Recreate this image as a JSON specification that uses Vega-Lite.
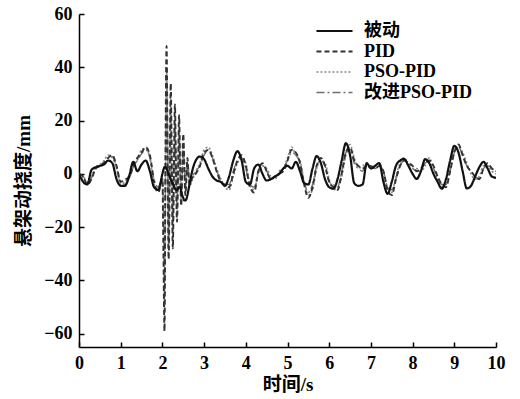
{
  "$schema": "https://vega.github.io/schema/vega-lite/v6.json",
  "width": 417,
  "height": 333,
  "autosize": "none",
  "padding": {"left": 79, "top": 14, "right": 24, "bottom": 52},
  "background": "white",
  "config": {
    "view": {"stroke": null},
    "font": "Liberation Serif, Noto Sans CJK SC",
    "axis": {
      "grid": false,
      "domainColor": "#000",
      "domainWidth": 1.5,
      "tickColor": "#000",
      "tickWidth": 1.5,
      "tickSize": -5,
      "labelColor": "#000",
      "labelFontSize": 18,
      "labelFontWeight": "bold",
      "labelFont": "Liberation Serif",
      "titleColor": "#000",
      "titleFontWeight": "bold",
      "titleFont": "Liberation Serif, Noto Sans CJK SC"
    }
  },
  "data": {
    "values": [
      {"t": 0.0, "被动": 0, "PID": 0, "PSO-PID": 0, "改进PSO-PID": 0},
      {"t": 0.1, "被动": -3, "PID": -1, "PSO-PID": -1.5, "改进PSO-PID": -1},
      {"t": 0.2, "被动": -4, "PID": -4, "PSO-PID": -3.5, "改进PSO-PID": -3},
      {"t": 0.3, "被动": 1.5, "PID": -2, "PSO-PID": -1, "改进PSO-PID": -1.5},
      {"t": 0.4, "被动": 2.5, "PID": 2, "PSO-PID": 2.5, "改进PSO-PID": 2},
      {"t": 0.5, "被动": 3, "PID": 3, "PSO-PID": 3.5, "改进PSO-PID": 3},
      {"t": 0.6, "被动": 3.5, "PID": 4, "PSO-PID": 5, "改进PSO-PID": 4.5},
      {"t": 0.7, "被动": 5, "PID": 6, "PSO-PID": 7, "改进PSO-PID": 6},
      {"t": 0.8, "被动": 4, "PID": 7, "PSO-PID": 6, "改进PSO-PID": 6.5},
      {"t": 0.9, "被动": -2, "PID": 3, "PSO-PID": 2, "改进PSO-PID": 2.5},
      {"t": 1.0, "被动": -4.5, "PID": -3, "PSO-PID": -4, "改进PSO-PID": -3.5},
      {"t": 1.1, "被动": -4.5, "PID": -2, "PSO-PID": -3, "改进PSO-PID": -4},
      {"t": 1.2, "被动": -1, "PID": -1.5, "PSO-PID": -0.5, "改进PSO-PID": -2},
      {"t": 1.3, "被动": 4.5, "PID": 3, "PSO-PID": 3, "改进PSO-PID": 2.5},
      {"t": 1.4, "被动": 1, "PID": 6, "PSO-PID": 5, "改进PSO-PID": 5},
      {"t": 1.5, "被动": 3.5, "PID": 8, "PSO-PID": 9, "改进PSO-PID": 7.5},
      {"t": 1.6, "被动": 5, "PID": 10, "PSO-PID": 9.5, "改进PSO-PID": 9},
      {"t": 1.7, "被动": 1, "PID": 7, "PSO-PID": 6, "改进PSO-PID": 6},
      {"t": 1.8, "被动": -5, "PID": -3, "PSO-PID": -4, "改进PSO-PID": -2},
      {"t": 1.9, "被动": -6, "PID": -7, "PSO-PID": -6, "改进PSO-PID": -5},
      {"t": 2.0, "被动": 0, "PID": -2, "PSO-PID": -3, "改进PSO-PID": -1},
      {"t": 2.025, "被动": 1.5, "PID": -30, "PSO-PID": -20, "改进PSO-PID": -15},
      {"t": 2.05, "被动": 2.5, "PID": -59, "PSO-PID": -50, "改进PSO-PID": -45},
      {"t": 2.075, "被动": 2.5, "PID": 10, "PSO-PID": 5, "改进PSO-PID": 0},
      {"t": 2.1, "被动": 2, "PID": 48, "PSO-PID": 40, "改进PSO-PID": 35},
      {"t": 2.125, "被动": 1, "PID": 5, "PSO-PID": 8, "改进PSO-PID": 10},
      {"t": 2.15, "被动": 0, "PID": -32, "PSO-PID": -28, "改进PSO-PID": -24},
      {"t": 2.175, "被动": -1, "PID": 0, "PSO-PID": -5, "改进PSO-PID": -3},
      {"t": 2.2, "被动": -2, "PID": 34, "PSO-PID": 28, "改进PSO-PID": 25},
      {"t": 2.225, "被动": -3, "PID": 3, "PSO-PID": 4, "改进PSO-PID": 2},
      {"t": 2.25, "被动": -3.5, "PID": -28, "PSO-PID": -22, "改进PSO-PID": -18},
      {"t": 2.275, "被动": -4.5, "PID": 0, "PSO-PID": -2, "改进PSO-PID": 0},
      {"t": 2.3, "被动": -5.5, "PID": 26, "PSO-PID": 20, "改进PSO-PID": 18},
      {"t": 2.325, "被动": -6, "PID": 2, "PSO-PID": 3, "改进PSO-PID": 1},
      {"t": 2.35, "被动": -6, "PID": -18, "PSO-PID": -15, "改进PSO-PID": -12},
      {"t": 2.375, "被动": -5.5, "PID": 0, "PSO-PID": 0, "改进PSO-PID": -1},
      {"t": 2.4, "被动": -5, "PID": 22, "PSO-PID": 17, "改进PSO-PID": 14},
      {"t": 2.425, "被动": -5, "PID": 3, "PSO-PID": 4, "改进PSO-PID": 2},
      {"t": 2.45, "被动": -6.5, "PID": -12, "PSO-PID": -10, "改进PSO-PID": -8},
      {"t": 2.475, "被动": -8, "PID": 0, "PSO-PID": 1, "改进PSO-PID": -1},
      {"t": 2.5, "被动": -9, "PID": 15, "PSO-PID": 12, "改进PSO-PID": 10},
      {"t": 2.525, "被动": -10, "PID": 4, "PSO-PID": 3, "改进PSO-PID": 3},
      {"t": 2.55, "被动": -10, "PID": -8, "PSO-PID": -6, "改进PSO-PID": -5},
      {"t": 2.575, "被动": -9.5, "PID": -2, "PSO-PID": -1, "改进PSO-PID": -1},
      {"t": 2.6, "被动": -8, "PID": 6, "PSO-PID": 5, "改进PSO-PID": 4},
      {"t": 2.625, "被动": -6, "PID": 0, "PSO-PID": 2, "改进PSO-PID": 1},
      {"t": 2.65, "被动": -4, "PID": -4, "PSO-PID": -3, "改进PSO-PID": -3},
      {"t": 2.675, "被动": -2, "PID": -3, "PSO-PID": -4, "改进PSO-PID": -4},
      {"t": 2.7, "被动": 0, "PID": -2, "PSO-PID": -3, "改进PSO-PID": -2},
      {"t": 2.8, "被动": 5, "PID": 0, "PSO-PID": 1, "改进PSO-PID": 1},
      {"t": 2.9, "被动": 6.5, "PID": 3, "PSO-PID": 4, "改进PSO-PID": 3},
      {"t": 3.0, "被动": 5.5, "PID": 8, "PSO-PID": 9, "改进PSO-PID": 7},
      {"t": 3.1, "被动": 2, "PID": 9, "PSO-PID": 10, "改进PSO-PID": 9},
      {"t": 3.2, "被动": -1, "PID": 6, "PSO-PID": 7, "改进PSO-PID": 6},
      {"t": 3.3, "被动": -2.5, "PID": 1, "PSO-PID": 2, "改进PSO-PID": 1},
      {"t": 3.4, "被动": -3, "PID": -3, "PSO-PID": -2, "改进PSO-PID": -2},
      {"t": 3.5, "被动": -4.5, "PID": -4, "PSO-PID": -5, "改进PSO-PID": -4},
      {"t": 3.6, "被动": -1, "PID": -5, "PSO-PID": -6, "改进PSO-PID": -4},
      {"t": 3.7, "被动": 5, "PID": 0, "PSO-PID": -1, "改进PSO-PID": 1},
      {"t": 3.8, "被动": 8.5, "PID": 5, "PSO-PID": 4, "改进PSO-PID": 5},
      {"t": 3.9, "被动": 5, "PID": 7, "PSO-PID": 6, "改进PSO-PID": 6},
      {"t": 4.0, "被动": -3, "PID": 3, "PSO-PID": 4, "改进PSO-PID": 2},
      {"t": 4.1, "被动": -4, "PID": -5, "PSO-PID": -4, "改进PSO-PID": -4},
      {"t": 4.2, "被动": 2, "PID": -7, "PSO-PID": -6, "改进PSO-PID": -5},
      {"t": 4.3, "被动": 3.5, "PID": 1, "PSO-PID": 0, "改进PSO-PID": 1},
      {"t": 4.4, "被动": 0, "PID": 4, "PSO-PID": 3, "改进PSO-PID": 3},
      {"t": 4.5, "被动": -2.5, "PID": 1, "PSO-PID": 2, "改进PSO-PID": 1},
      {"t": 4.6, "被动": -2, "PID": -2, "PSO-PID": -1, "改进PSO-PID": -2},
      {"t": 4.7, "被动": -1, "PID": -1, "PSO-PID": -2, "改进PSO-PID": -1},
      {"t": 4.8, "被动": 0, "PID": 0, "PSO-PID": 1, "改进PSO-PID": 0},
      {"t": 4.9, "被动": 2, "PID": 1, "PSO-PID": 2, "改进PSO-PID": 2},
      {"t": 5.0, "被动": 3, "PID": 5, "PSO-PID": 6, "改进PSO-PID": 5},
      {"t": 5.1, "被动": 2, "PID": 9, "PSO-PID": 10, "改进PSO-PID": 8},
      {"t": 5.2, "被动": 4.5, "PID": 8, "PSO-PID": 7, "改进PSO-PID": 7},
      {"t": 5.3, "被动": 1, "PID": 4, "PSO-PID": 5, "改进PSO-PID": 4},
      {"t": 5.4, "被动": -3.5, "PID": -4, "PSO-PID": -3, "改进PSO-PID": -3},
      {"t": 5.5, "被动": -4, "PID": -9, "PSO-PID": -8, "改进PSO-PID": -7},
      {"t": 5.6, "被动": 2, "PID": -5, "PSO-PID": -6, "改进PSO-PID": -4},
      {"t": 5.7, "被动": 6.7, "PID": 3, "PSO-PID": 2, "改进PSO-PID": 3},
      {"t": 5.8, "被动": 4, "PID": 6, "PSO-PID": 5, "改进PSO-PID": 5},
      {"t": 5.9, "被动": -2, "PID": 3, "PSO-PID": 4, "改进PSO-PID": 3},
      {"t": 6.0, "被动": -5, "PID": -3, "PSO-PID": -2, "改进PSO-PID": -3},
      {"t": 6.1, "被动": -5.6, "PID": -5, "PSO-PID": -6, "改进PSO-PID": -4},
      {"t": 6.2, "被动": -2, "PID": -6, "PSO-PID": -5, "改进PSO-PID": -5},
      {"t": 6.3, "被动": 5, "PID": 0, "PSO-PID": -1, "改进PSO-PID": 1},
      {"t": 6.4, "被动": 11.5, "PID": 8, "PSO-PID": 7, "改进PSO-PID": 8},
      {"t": 6.5, "被动": 7, "PID": 10, "PSO-PID": 11, "改进PSO-PID": 9},
      {"t": 6.6, "被动": -3.5, "PID": 5, "PSO-PID": 6, "改进PSO-PID": 4},
      {"t": 6.7, "被动": -4.5, "PID": 3, "PSO-PID": 2, "改进PSO-PID": 2},
      {"t": 6.8, "被动": -4, "PID": 2, "PSO-PID": 3, "改进PSO-PID": 1},
      {"t": 6.9, "被动": 4, "PID": 3, "PSO-PID": 4, "改进PSO-PID": 3},
      {"t": 7.0, "被动": 2, "PID": 3, "PSO-PID": 2, "改进PSO-PID": 3},
      {"t": 7.1, "被动": 3, "PID": 2, "PSO-PID": 3, "改进PSO-PID": 2},
      {"t": 7.2, "被动": 4, "PID": 3, "PSO-PID": 4, "改进PSO-PID": 3},
      {"t": 7.3, "被动": -3, "PID": 1, "PSO-PID": 0, "改进PSO-PID": 1},
      {"t": 7.4, "被动": -7.5, "PID": -6, "PSO-PID": -7, "改进PSO-PID": -5},
      {"t": 7.5, "被动": -3, "PID": -8, "PSO-PID": -7, "改进PSO-PID": -6},
      {"t": 7.6, "被动": 3, "PID": -2, "PSO-PID": -1, "改进PSO-PID": -2},
      {"t": 7.7, "被动": 5, "PID": 3, "PSO-PID": 4, "改进PSO-PID": 3},
      {"t": 7.8, "被动": 5.6, "PID": 5, "PSO-PID": 6, "改进PSO-PID": 5},
      {"t": 7.9, "被动": 3, "PID": 4, "PSO-PID": 3, "改进PSO-PID": 4},
      {"t": 8.0, "被动": 0, "PID": 3, "PSO-PID": 2, "改进PSO-PID": 2},
      {"t": 8.1, "被动": -1.9, "PID": 1, "PSO-PID": 2, "改进PSO-PID": 1},
      {"t": 8.2, "被动": 1, "PID": 2, "PSO-PID": 1, "改进PSO-PID": 2},
      {"t": 8.3, "被动": 5.5, "PID": 4, "PSO-PID": 3, "改进PSO-PID": 4},
      {"t": 8.4, "被动": 4, "PID": 5, "PSO-PID": 6, "改进PSO-PID": 5},
      {"t": 8.5, "被动": 0, "PID": 3, "PSO-PID": 2, "改进PSO-PID": 2},
      {"t": 8.6, "被动": -3, "PID": -1, "PSO-PID": -2, "改进PSO-PID": -1},
      {"t": 8.7, "被动": -5.6, "PID": -4, "PSO-PID": -5, "改进PSO-PID": -4},
      {"t": 8.8, "被动": -2, "PID": -5, "PSO-PID": -4, "改进PSO-PID": -4},
      {"t": 8.9, "被动": 5, "PID": 1, "PSO-PID": 2, "改进PSO-PID": 1},
      {"t": 9.0, "被动": 10.5, "PID": 8, "PSO-PID": 9, "改进PSO-PID": 8},
      {"t": 9.1, "被动": 8, "PID": 11, "PSO-PID": 10, "改进PSO-PID": 10},
      {"t": 9.2, "被动": 1, "PID": 7, "PSO-PID": 8, "改进PSO-PID": 7},
      {"t": 9.3, "被动": -5.5, "PID": 3, "PSO-PID": 4, "改进PSO-PID": 3},
      {"t": 9.4, "被动": -4.5, "PID": 1, "PSO-PID": 0, "改进PSO-PID": 1},
      {"t": 9.5, "被动": -1, "PID": -1, "PSO-PID": -2, "改进PSO-PID": -1},
      {"t": 9.6, "被动": 2.5, "PID": -2, "PSO-PID": -1, "改进PSO-PID": -2},
      {"t": 9.7, "被动": 4.5, "PID": 2, "PSO-PID": 3, "改进PSO-PID": 2},
      {"t": 9.8, "被动": 2, "PID": 4, "PSO-PID": 3, "改进PSO-PID": 3},
      {"t": 9.9, "被动": -1, "PID": 2, "PSO-PID": 1, "改进PSO-PID": 2},
      {"t": 10.0, "被动": -1.5, "PID": 1, "PSO-PID": 0, "改进PSO-PID": 1}
    ]
  },
  "transform": [
    {"fold": ["改进PSO-PID", "PSO-PID", "PID", "被动"], "as": ["s", "v"]}
  ],
  "mark": {"type": "line", "interpolate": "monotone", "clip": true},
  "encoding": {
    "x": {
      "field": "t",
      "type": "quantitative",
      "scale": {"domain": [0, 10], "nice": false},
      "axis": {
        "values": [0, 1, 2, 3, 4, 5, 6, 7, 8, 9, 10],
        "labelPadding": 12,
        "labelFlush": false,
        "title": "时间/s",
        "titleFontSize": 19,
        "titlePadding": 3
      }
    },
    "y": {
      "field": "v",
      "type": "quantitative",
      "scale": {"domain": [-65, 60], "nice": false, "zero": false},
      "axis": {
        "values": [-60, -40, -20, 0, 20, 40, 60],
        "labelPadding": 12,
        "title": "悬架动挠度/mm",
        "titleFontSize": 19,
        "titlePadding": 10
      }
    },
    "color": {
      "field": "s",
      "type": "nominal",
      "scale": {
        "domain": ["被动", "PID", "PSO-PID", "改进PSO-PID"],
        "range": ["#111111", "#333333", "#8a8a8a", "#6e6e6e"]
      },
      "legend": {
        "title": null,
        "orient": "none",
        "legendX": 236,
        "legendY": 7,
        "padding": 0,
        "symbolType": "stroke",
        "symbolSize": 1300,
        "symbolStrokeWidth": 2,
        "clipHeight": 20,
        "labelFont": "Liberation Serif, Noto Sans CJK SC",
        "labelFontSize": 18,
        "labelFontWeight": "bold",
        "labelColor": "#000",
        "labelOffset": 10,
        "rowPadding": 0.5
      }
    },
    "strokeDash": {
      "field": "s",
      "type": "nominal",
      "scale": {
        "domain": ["被动", "PID", "PSO-PID", "改进PSO-PID"],
        "range": [[1, 0], [5, 3], [2, 2], [8, 3, 2, 3]]
      }
    },
    "strokeWidth": {
      "field": "s",
      "type": "nominal",
      "scale": {
        "domain": ["被动", "PID", "PSO-PID", "改进PSO-PID"],
        "range": [2.2, 1.4, 1.4, 1.4]
      },
      "legend": null
    }
  }
}
